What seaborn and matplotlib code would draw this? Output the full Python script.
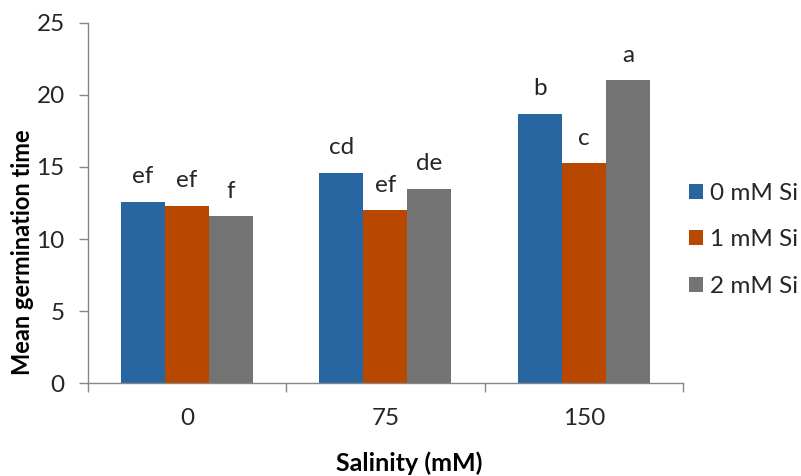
import matplotlib
matplotlib.use("Agg")
import matplotlib.pyplot as plt
import seaborn as sns
import pandas as pd

salinity = ["0", "75", "150"]
si_levels = ["0 mM Si", "1 mM Si", "2 mM Si"]
mgt_0si = [12.6, 14.6, 18.7]
mgt_1si = [12.3, 12.0, 15.25]
mgt_2si = [11.6, 13.5, 21.0]
letters_0si = ["ef", "cd", "b"]
letters_1si = ["ef", "ef", "c"]
letters_2si = ["f", "de", "a"]
colors = ["#2866A2", "#B84700", "#737373"]
yticks = [0, 5, 10, 15, 20, 25]

rows = []
for lvl, vals in zip(si_levels, [mgt_0si, mgt_1si, mgt_2si]):
    for s, v in zip(salinity, vals):
        rows.append({"Salinity": s, "MGT": v, "Si": lvl})
df = pd.DataFrame(rows)

sns.set_theme(style="white")
plt.rcParams["font.family"] = ["Lato", "DejaVu Sans"]
text_col = "#262626"
spine_col = "#878787"
fs = 17.5

fig = plt.figure(figsize=(8.01, 4.76), dpi=100)
ax = fig.add_axes([0.1095, 0.1947, 0.853 - 0.1095, 0.9523 - 0.1947])

sns.barplot(data=df, x="Salinity", y="MGT", hue="Si", order=salinity,
            hue_order=si_levels, palette=colors, width=0.665, gap=0,
            saturation=1, errorbar=None, ax=ax, legend=True, linewidth=0)

all_letters = [letters_0si, letters_1si, letters_2si]
for cont, labs in zip(ax.containers, all_letters):
    for bar, lab in zip(cont, labs):
        ax.annotate(lab, (bar.get_x() + bar.get_width() / 2, bar.get_height()),
                    xytext=(0, 13.3), textcoords="offset points",
                    ha="center", va="baseline", fontsize=fs, color=text_col)

ax.set_ylim(0, 25)
ax.set_xlim(-0.5, 2.5)
ax.set_yticks(yticks)
ax.set_yticklabels([str(t) for t in yticks])
ax.set_xticks([-0.5, 0.5, 1.5, 2.5], minor=True)
ax.tick_params(axis="x", which="major", length=0, pad=18, labelsize=fs, labelcolor=text_col)
ax.tick_params(axis="x", which="minor", length=6.5, width=1, color=spine_col, direction="out", bottom=True)
ax.tick_params(axis="y", which="major", length=6.5, width=1, color=spine_col, direction="out",
               left=True, pad=10, labelsize=fs, labelcolor=text_col)

for s in ["top", "right"]:
    ax.spines[s].set_visible(False)
for s in ["left", "bottom"]:
    ax.spines[s].set_color(spine_col)
    ax.spines[s].set_linewidth(1)

ax.set_xlabel("")
ax.set_ylabel("")
fig.text(0.0287, 0.4706, "Mean germination time", rotation=90, ha="center", va="center",
         fontsize=17, fontweight="bold", color="black")
fig.text(0.5106, 0.0273, "Salinity (mM)", ha="center", va="center",
         fontsize=18, fontweight="bold", color="black")

ax.get_legend().remove()
handles, labels = ax.get_legend_handles_labels()
fig.legend(handles, labels, loc="center left", bbox_to_anchor=(0.8605, 0.4964),
           frameon=False, fontsize=fs, handlelength=0.576, handleheight=0.576,
           handletextpad=0.28, labelspacing=1.045, borderpad=0, borderaxespad=0,
           labelcolor=text_col)

fig.savefig("out.png", dpi=100)
